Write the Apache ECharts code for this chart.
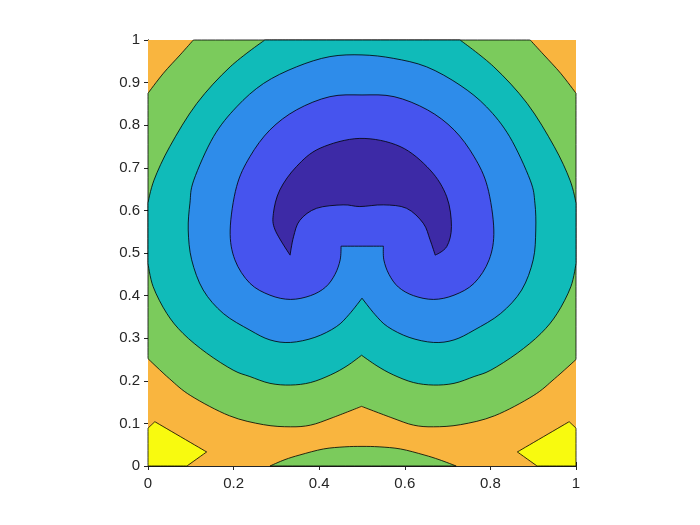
<!DOCTYPE html>
<html>
<head>
<meta charset="utf-8">
<script src="https://cdn.jsdelivr.net/npm/echarts@6/dist/echarts.min.js"></script>
<style>
  html, body { margin: 0; padding: 0; background: #fff; }
  #chart { width: 700px; height: 525px; }
</style>
</head>
<body>
<div id="chart"></div>
<script>
// filled contour bands as [x, y] outlines (data units)
// a third value 1 marks a sharp corner (box edges, cusps)
const orangeBox = [[0, 0, 1], [1, 0, 1], [1, 1, 1], [0, 1, 1]];
const yellowLeft = [[0, 0, 1], [0, 0.089, 1], [0.016, 0.104, 1], [0.137, 0.033, 1], [0.091, 0, 1]];
const yellowRight = [[1, 0, 1], [1, 0.089, 1], [0.984, 0.104, 1], [0.863, 0.033, 1], [0.909, 0, 1]];
const greenMain = [
  [0, 0.252, 1], [0, 0.875, 1], [0.036, 0.922], [0.075, 0.965], [0.106, 1, 1],
  [0.893, 1, 1], [0.925, 0.965], [0.964, 0.922], [1, 0.875, 1],
  [1, 0.25, 1], [0.95, 0.205], [0.9, 0.165], [0.81, 0.118], [0.73, 0.097], [0.667, 0.092],
  [0.62, 0.096], [0.57, 0.113], [0.499, 0.14, 1], [0.43, 0.113], [0.38, 0.096], [0.333, 0.092],
  [0.27, 0.097], [0.19, 0.118], [0.1, 0.165], [0.05, 0.205]
];
const greenBottom = [
  [0.285, 0, 1], [0.32, 0.015], [0.355, 0.026], [0.41, 0.04], [0.46, 0.045], [0.5, 0.046],
  [0.54, 0.045], [0.59, 0.04], [0.645, 0.026], [0.68, 0.015], [0.72, 0, 1]
];
const tealRegion = [
  [0.273, 1, 1], [0.729, 1, 1], [0.808, 0.937], [0.886, 0.851], [0.949, 0.75], [0.986, 0.671],
  [1, 0.617, 1], [1, 0.476, 1], [0.988, 0.421], [0.956, 0.358], [0.918, 0.311], [0.863, 0.265],
  [0.801, 0.225], [0.762, 0.21], [0.715, 0.194], [0.667, 0.19], [0.62, 0.196], [0.573, 0.214],
  [0.535, 0.235], [0.499, 0.26, 1], [0.465, 0.235], [0.427, 0.214], [0.38, 0.196], [0.333, 0.19],
  [0.285, 0.194], [0.238, 0.21], [0.199, 0.225], [0.137, 0.265], [0.082, 0.311], [0.044, 0.358],
  [0.012, 0.421], [0, 0.476, 1], [0, 0.617, 1], [0.014, 0.671], [0.051, 0.75], [0.114, 0.851],
  [0.192, 0.937]
];
const lightBlueRegion = [
  [0.5, 0.394, 1], [0.47, 0.356], [0.44, 0.327], [0.39, 0.302], [0.333, 0.29], [0.285, 0.296],
  [0.238, 0.319], [0.176, 0.358], [0.129, 0.413], [0.102, 0.484], [0.094, 0.554], [0.098, 0.617],
  [0.107, 0.671], [0.153, 0.773], [0.207, 0.843], [0.27, 0.898], [0.347, 0.937], [0.425, 0.961],
  [0.5, 0.965], [0.573, 0.957], [0.651, 0.937], [0.729, 0.894], [0.791, 0.843], [0.845, 0.773],
  [0.893, 0.671], [0.904, 0.617], [0.906, 0.554], [0.9, 0.484], [0.873, 0.413], [0.824, 0.358],
  [0.762, 0.319], [0.715, 0.296], [0.667, 0.29], [0.61, 0.302], [0.56, 0.327], [0.53, 0.356]
];
const blueRegion = [
  [0.451, 0.516, 1], [0.449, 0.484], [0.437, 0.45], [0.415, 0.42], [0.38, 0.4], [0.333, 0.391],
  [0.285, 0.401], [0.238, 0.429], [0.203, 0.484], [0.192, 0.554], [0.207, 0.656], [0.238, 0.726],
  [0.285, 0.789], [0.347, 0.836], [0.425, 0.867], [0.5, 0.871], [0.575, 0.867], [0.653, 0.836],
  [0.715, 0.789], [0.762, 0.726], [0.793, 0.656], [0.808, 0.554], [0.797, 0.484], [0.762, 0.429],
  [0.715, 0.401], [0.667, 0.391], [0.62, 0.4], [0.585, 0.42], [0.563, 0.45], [0.551, 0.484],
  [0.55, 0.516, 1]
];
const darkBlueRegion = [
  [0.332, 0.495, 1], [0.297, 0.554], [0.293, 0.593], [0.308, 0.648], [0.347, 0.703], [0.402, 0.746],
  [0.495, 0.769], [0.589, 0.75], [0.659, 0.695], [0.698, 0.632], [0.709, 0.562], [0.698, 0.515],
  [0.671, 0.495, 1], [0.659, 0.531], [0.643, 0.57], [0.604, 0.605], [0.55, 0.613], [0.495, 0.609],
  [0.456, 0.613], [0.394, 0.605], [0.355, 0.577], [0.34, 0.538]
];
const levelColors = ['#F8FA0F', '#F9B53F', '#7BCB5C', '#10BBB9', '#2E8CEA', '#4654EE', '#3D2AA6'];

// drawing order: outer bands first, inner ones on top
const regions = [
  { pts: orangeBox, color: levelColors[1], line: false },
  { pts: yellowLeft, color: levelColors[0], line: true },
  { pts: yellowRight, color: levelColors[0], line: true },
  { pts: greenMain, color: levelColors[2], line: true },
  { pts: greenBottom, color: levelColors[2], line: true },
  { pts: tealRegion, color: levelColors[3], line: true },
  { pts: lightBlueRegion, color: levelColors[4], line: true },
  { pts: blueRegion, color: levelColors[5], line: true },
  { pts: darkBlueRegion, color: levelColors[6], line: true }
];

// closed curve through the outline points (cardinal spline, sharp points keep corners)
function outlinePath(pix, sharp) {
  const n = pix.length;
  const tan = pix.map((p, i) => {
    if (sharp[i]) return [0, 0];
    const a = pix[(i - 1 + n) % n], b = pix[(i + 1) % n];
    return [(b[0] - a[0]) / 2, (b[1] - a[1]) / 2];
  });
  let d = 'M' + pix[0][0] + ' ' + pix[0][1];
  for (let i = 0; i < n; i++) {
    const j = (i + 1) % n;
    const c1 = [pix[i][0] + tan[i][0] / 3, pix[i][1] + tan[i][1] / 3];
    const c2 = [pix[j][0] - tan[j][0] / 3, pix[j][1] - tan[j][1] / 3];
    d += 'C' + c1[0] + ' ' + c1[1] + ' ' + c2[0] + ' ' + c2[1] + ' ' + pix[j][0] + ' ' + pix[j][1];
  }
  return d + 'Z';
}

const chart = echarts.init(document.getElementById('chart'));
const axisCol = '#262626';
const fontFam = '"Liberation Sans", Arial, sans-serif';
const option = {
  animation: false,
  backgroundColor: '#fff',
  grid: { left: 148, right: 124, top: 40, bottom: 59 },
  xAxis: [
    {
      type: 'value', min: 0, max: 1, interval: 0.2, position: 'bottom',
      axisLine: { show: true, lineStyle: { color: axisCol, width: 1 } },
      axisTick: { show: true, inside: true, length: 4, lineStyle: { color: axisCol } },
      axisLabel: { color: axisCol, fontSize: 15, fontFamily: fontFam, margin: 10,
        formatter: v => String(+v.toFixed(1)) },
      splitLine: { show: false }
    },
    {
      type: 'value', min: 0, max: 1, interval: 0.2, position: 'top',
      axisLine: { show: true, lineStyle: { color: axisCol, width: 1 } },
      axisTick: { show: true, inside: true, length: 4, lineStyle: { color: axisCol } },
      axisLabel: { show: false }, splitLine: { show: false }
    }
  ],
  yAxis: [
    {
      type: 'value', min: 0, max: 1, interval: 0.1, position: 'left',
      axisLine: { show: true, lineStyle: { color: axisCol, width: 1 } },
      axisTick: { show: true, inside: true, length: 4, lineStyle: { color: axisCol } },
      axisLabel: { color: axisCol, fontSize: 15, fontFamily: fontFam, margin: 8,
        formatter: v => String(+v.toFixed(1)) },
      splitLine: { show: false }
    },
    {
      type: 'value', min: 0, max: 1, interval: 0.1, position: 'right',
      axisLine: { show: true, lineStyle: { color: axisCol, width: 1 } },
      axisTick: { show: true, inside: true, length: 4, lineStyle: { color: axisCol } },
      axisLabel: { show: false }, splitLine: { show: false }
    }
  ],
  series: [{
    type: 'custom',
    xAxisIndex: 0,
    yAxisIndex: 0,
    z: 1,
    data: regions.map((r, i) => i),
    renderItem: function (params, api) {
      const r = regions[params.dataIndex];
      const pix = r.pts.map(p => api.coord([p[0], p[1]]));
      const sharp = r.pts.map(p => p[2] === 1);
      return {
        type: 'path',
        shape: { pathData: outlinePath(pix, sharp) },
        style: {
          fill: r.color,
          stroke: r.line ? '#000' : null,
          lineWidth: 0.8
        }
      };
    }
  }]
};
chart.setOption(option);
</script>
</body>
</html>
